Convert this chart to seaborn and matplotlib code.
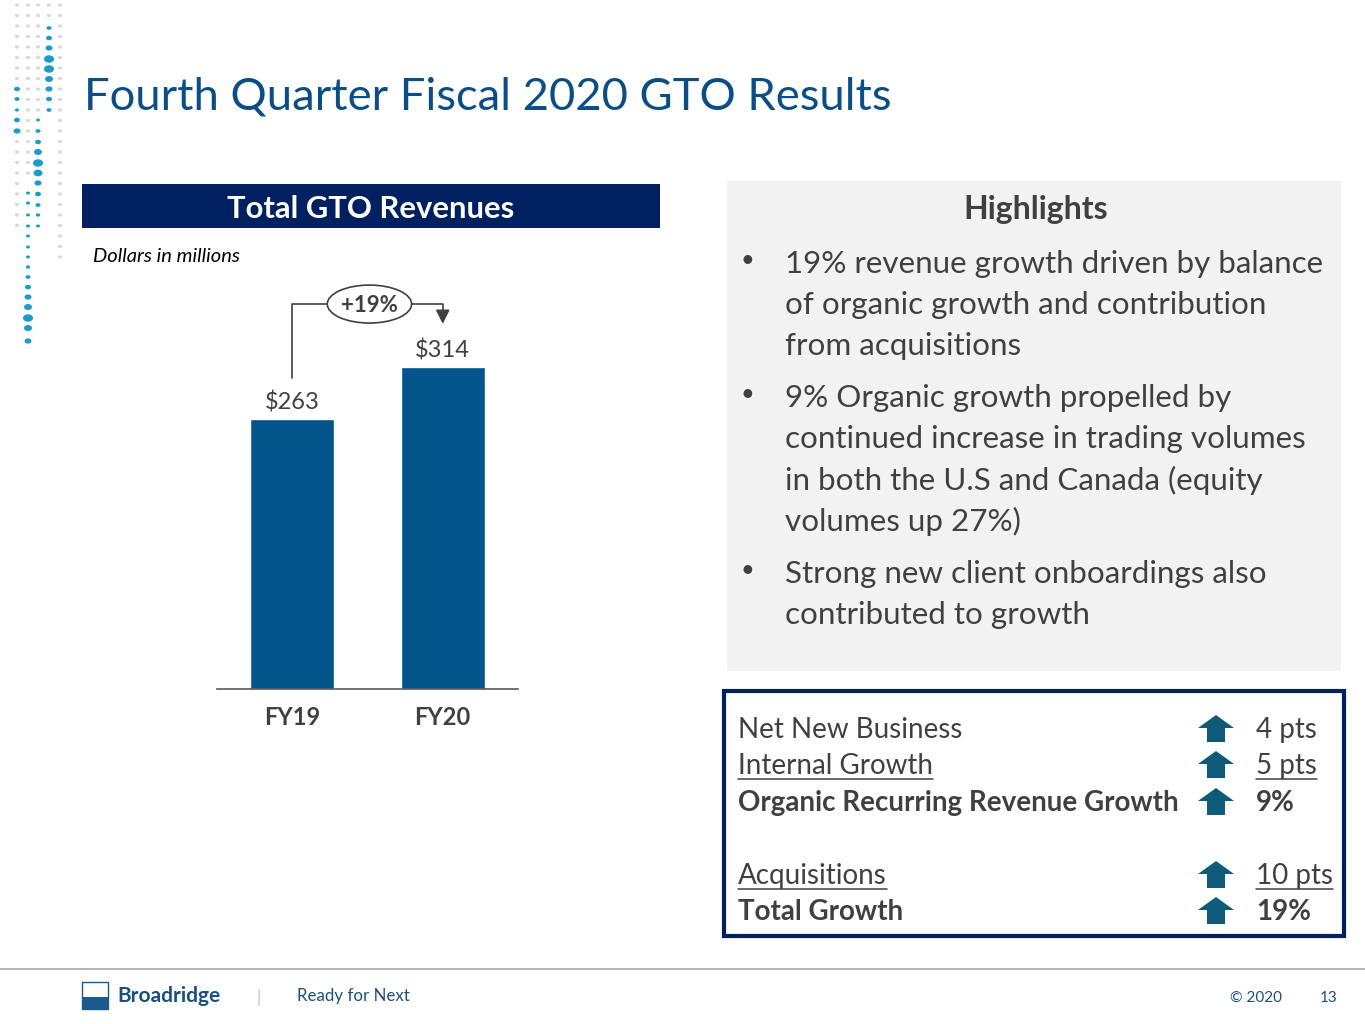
import matplotlib.pyplot as plt
import matplotlib.patches as mpatches
from matplotlib.lines import Line2D
import pandas as pd
import seaborn as sns

sns.set_theme(style="white")
plt.rcParams["font.family"] = ["Lato", "DejaVu Sans"]

# ---- data ----
years = ["FY19", "FY20"]
revenues = [263, 314]
growth_label = "+19%"

highlight_bullets = [
    ["19% revenue growth driven by balance", "of organic growth and contribution", "from acquisitions"],
    ["9% Organic growth propelled by", "continued increase in trading volumes",
     "in both the U.S and Canada (equity", "volumes up 27%)"],
    ["Strong new client onboardings also", "contributed to growth"],
]

growth_items = ["Net New Business", "Internal Growth", "Organic Recurring Revenue Growth",
                "Acquisitions", "Total Growth"]
growth_values = ["4 pts", "5 pts", "9%", "10 pts", "19%"]
growth_bold = [False, False, True, False, True]
growth_underline = [False, True, False, True, False]

# ---- colours ----
NAVY = "#002060"
BAR = "#02558B"
TITLE = "#0B4E86"
TEXT = "#404040"
ARROW = "#0E5A78"
BLUE_DOT = "#1A9CC9"
GRAY_DOT = "#DADADA"

W, H = 1365, 1024
fig = plt.figure(figsize=(W / 100, H / 100), dpi=100)


def fx(x):
    return x / W


def fy(y):
    return 1 - y / H


def ptxt(x, y, s, **kw):
    return fig.text(fx(x), fy(y), s, **kw)


def prect(x0, y0, x1, y1, **kw):
    r = mpatches.Rectangle((fx(x0), fy(y1)), fx(x1) - fx(x0), fy(y0) - fy(y1),
                           transform=fig.transFigure, **kw)
    fig.add_artist(r)
    return r


# ---- decorative dot pattern ----
gray_cols = {17: (5, 230), 28: (5, 180), 38: (5, 110), 49: (5, 20), 60: (5, 265)}
for cx, (y0, y1) in gray_cols.items():
    yy = y0
    while yy <= y1:
        fig.add_artist(mpatches.Circle((fx(cx), fy(yy)), 2.2 / W, transform=fig.transFigure,
                                       color=GRAY_DOT, lw=0))
        yy += 10.5
blue_dots = [
    (49, [28, 38, 48, 59, 69, 79, 89, 99, 110], [2.5, 3, 3.5, 5, 5, 4, 3.5, 3, 2.5]),
    (17, [89, 99, 110, 120, 131], [3, 2.5, 2, 3, 3.5]),
    (38, [120, 131, 142, 152, 163, 173, 183, 194, 205, 215, 226],
     [2, 2.5, 3, 4, 5, 4.5, 3.5, 3, 2.5, 2.2, 2]),
    (28, [193, 203, 215, 226, 236, 247, 257, 267, 277, 287, 297, 307, 318, 328, 341],
     [2, 2, 2, 2, 2, 2, 2, 2.2, 2.5, 3, 3.5, 4, 5, 4, 3.5]),
]
for cx, ys, rs in blue_dots:
    for yy, rr in zip(ys, rs):
        fig.add_artist(mpatches.Circle((fx(cx), fy(yy)), rr / W, transform=fig.transFigure,
                                       color=BLUE_DOT, lw=0))

# ---- title ----
ptxt(84, 97, "Fourth Quarter Fiscal 2020 GTO Results", fontsize=32.7, color=TITLE, va="center")

# ---- left header ----
prect(82, 184, 660, 228, color=NAVY, lw=0)
ptxt(371, 209, "Total GTO Revenues", fontsize=22.3, color="white", fontweight="bold",
     ha="center", va="center")
ptxt(93, 256, "Dollars in millions", fontsize=14.5, color="black", style="italic", va="center")

# ---- bar chart ----
ax = fig.add_axes([fx(217), fy(689), fx(518) - fx(217), 410.6 / H])
df = pd.DataFrame({"year": years, "revenue": revenues})
sns.barplot(data=df, x="year", y="revenue", color=BAR, saturation=1, width=0.56, ax=ax)
ax.set_xlim(-0.5, 1.5)
ax.set_ylim(0, 400)
ax.set_facecolor("none")
for side in ["top", "right", "left"]:
    ax.spines[side].set_visible(False)
ax.spines["bottom"].set_color("#595959")
ax.spines["bottom"].set_linewidth(1.2)
ax.set_yticks([])
ax.set_xlabel("")
ax.set_ylabel("")
ax.tick_params(axis="x", length=0, pad=12, labelsize=17, labelcolor=TEXT)
for lab in ax.get_xticklabels():
    lab.set_fontweight("bold")

for i, v in enumerate(revenues):
    ax.text(i, v + 16, f"${v}", ha="center", va="center", fontsize=17, color=TEXT)

# growth connector
y_top = 375
ell_cx, ell_w = 0.513, 0.56
ax.plot([0, 0, ell_cx - ell_w / 2], [revenues[0] + 40, y_top, y_top], color=TEXT, lw=1.2,
        clip_on=False)
ax.plot([ell_cx + ell_w / 2, 1, 1], [y_top, y_top, 362], color=TEXT, lw=1.2, clip_on=False)
ax.annotate("", xy=(1, revenues[1] + 39), xytext=(1, 364),
            arrowprops=dict(arrowstyle="-|>,head_width=0.35,head_length=0.7", color=TEXT, lw=1.2),
            annotation_clip=False)
ax.add_patch(mpatches.Ellipse((ell_cx, y_top), ell_w, 37, facecolor="white",
                              edgecolor=TEXT, lw=1.2, clip_on=False, zorder=3))
ax.text(ell_cx, y_top - 1, growth_label, ha="center", va="center", fontsize=16,
        fontweight="bold", color=TEXT, zorder=4)

# ---- highlights panel ----
prect(727, 181, 1341, 671, color="#F2F2F2", lw=0)
ptxt(1036, 210, "Highlights", fontsize=23, fontweight="bold", color=TEXT, ha="center", va="center")
line_y = [[264, 305, 346], [398, 439, 480, 521], [574, 615]]
for lines, ys in zip(highlight_bullets, line_y):
    ptxt(747, ys[0] - 4, "•", fontsize=17, color=TEXT, ha="center", va="center")
    for s, yy in zip(lines, ys):
        ptxt(785, yy, s, fontsize=22.6, color=TEXT, va="center")

# ---- growth table ----
prect(724, 691, 1344, 936, facecolor="white", edgecolor=NAVY, lw=3)
row_y = [730, 766, 803, 876, 912]
fig.canvas.draw()
renderer = fig.canvas.get_renderer()
for name, val, bold, ul, yy in zip(growth_items, growth_values, growth_bold, growth_underline, row_y):
    wt = "bold" if bold else "normal"
    t1 = ptxt(738, yy, name, fontsize=20, color=TEXT, fontweight=wt, va="center")
    t2 = ptxt(1256, yy, val, fontsize=20, color=TEXT, fontweight=wt, va="center")
    # up arrow
    cx = 1216
    ay = yy - 2
    pts = [(cx - 18, ay), (cx, ay - 13), (cx + 18, ay), (cx + 9, ay), (cx + 9, ay + 14),
           (cx - 9, ay + 14), (cx - 9, ay)]
    fig.add_artist(mpatches.Polygon([(fx(a), fy(b)) for a, b in pts], closed=True,
                                    transform=fig.transFigure, color=ARROW, lw=0))
    if ul:
        for t in (t1, t2):
            bb = t.get_window_extent(renderer)
            fig.add_artist(Line2D([bb.x0 / W, bb.x1 / W], [fy(yy + 13)] * 2,
                                  transform=fig.transFigure, color=TEXT, lw=1.1))

# ---- footer ----
fig.add_artist(Line2D([0, 1], [fy(969)] * 2, transform=fig.transFigure, color="#A6A6A6", lw=1.2))
prect(82, 982, 108, 1009, facecolor="white", edgecolor="#1B5A8C", lw=1)
prect(82, 997, 108, 1009, color="#1B5A8C", lw=0)
ptxt(117, 996, "Broadridge", fontsize=15, fontweight="bold", color="#1B4F7E", va="center")
ptxt(259, 998, "|", fontsize=12, color="#BFBFBF", ha="center", va="center")
ptxt(297, 996, "Ready for Next", fontsize=12.2, color="#1F4E79", va="center")
ptxt(1256, 998, "© 2020", fontsize=11, color="#1F4E79", ha="center", va="center")
ptxt(1329, 998, "13", fontsize=11, color="#1F4E79", ha="center", va="center")

fig.savefig("out.png", dpi=100, facecolor="white")
